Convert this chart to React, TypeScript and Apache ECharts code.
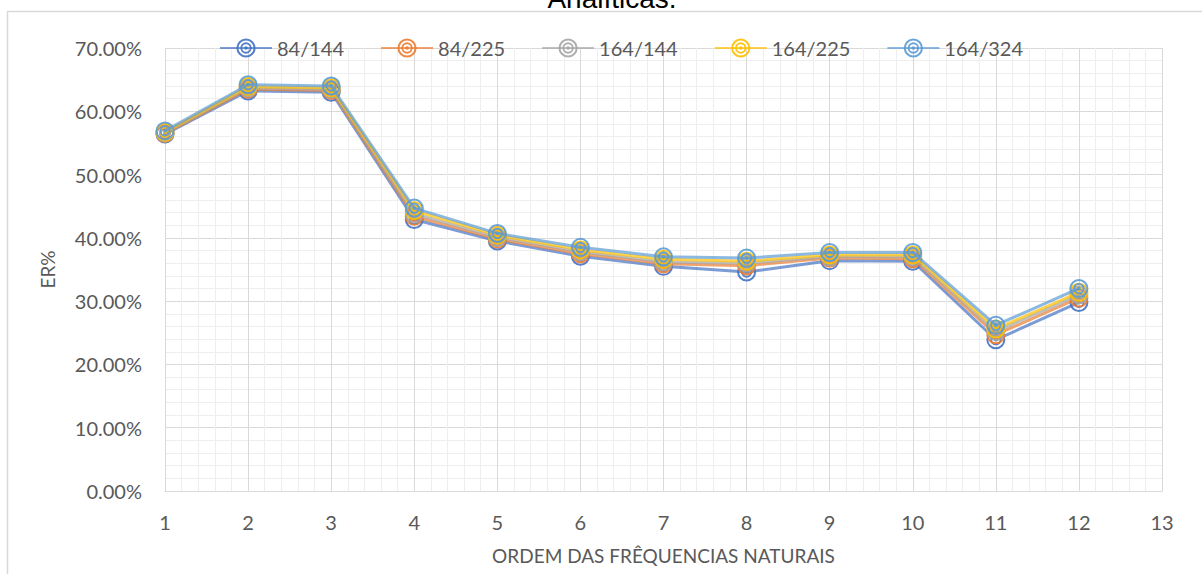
import { useEffect, useRef } from "react";
import * as echarts from "echarts";

const xValues = [1, 2, 3, 4, 5, 6, 7, 8, 9, 10, 11, 12];
const seriesNames = ["84/144", "84/225", "164/144", "164/225", "164/324"];
const s84_144 = [56.4, 63.2, 63.0, 42.9, 39.5, 37.1, 35.5, 34.6, 36.4, 36.3, 23.9, 29.8];
const s84_225 = [56.5, 63.5, 63.3, 43.4, 39.8, 37.5, 35.9, 35.6, 36.8, 36.7, 24.7, 30.5];
const s164_144 = [56.6, 63.7, 63.5, 43.8, 40.1, 37.8, 36.2, 36.0, 37.0, 37.0, 25.2, 31.0];
const s164_225 = [56.7, 63.9, 63.7, 44.3, 40.4, 38.1, 36.6, 36.3, 37.3, 37.3, 25.6, 31.4];
const s164_324 = [56.9, 64.2, 64.0, 44.7, 40.7, 38.5, 37.0, 36.8, 37.7, 37.7, 26.2, 32.0];
const seriesValues = [s84_144, s84_225, s164_144, s164_225, s164_324];
const colors = ["#4472C4", "#ED7D31", "#A5A5A5", "#FFC000", "#5B9BD5"];
const titleText = "Analíticas.";
const xTitle = "ORDEM DAS FRÊQUENCIAS NATURAIS";
const yTitle = "ER%";

const ring = (r1: number, r2: number) =>
  `M0 ${-r1}A${r1} ${r1} 0 1 1 0 ${r1}A${r1} ${r1} 0 1 1 0 ${-r1}Z` +
  `M0 ${-r2}A${r2} ${r2} 0 1 0 0 ${r2}A${r2} ${r2} 0 1 0 0 ${-r2}Z`;
const dot = (r: number) => `M0 ${-r}A${r} ${r} 0 1 1 0 ${r}A${r} ${r} 0 1 1 0 ${-r}Z`;
const bullseye = "path://" + ring(10, 7.9) + ring(5.9, 3.9) + dot(1.9);

const FONT = "Lato";
const TXT = "#595959";

export default function App() {
  const ref = useRef<HTMLDivElement>(null);
  useEffect(() => {
    if (!ref.current) return;
    const chart = echarts.init(ref.current, undefined, { renderer: "svg" });
    chart.setOption({
      animation: false,
      backgroundColor: "#ffffff",
      textStyle: { fontFamily: FONT },
      graphic: [
        {
          type: "rect",
          shape: { x: 7.5, y: 11.5, width: 1400, height: 800 },
          style: { fill: "none", stroke: "#d9d9d9", lineWidth: 1.5 },
          silent: true,
          z: 0,
        },
        {
          type: "text",
          x: 612,
          y: 12,
          z: 10,
          style: {
            text: titleText,
            fontFamily: "Liberation Sans",
            fontSize: 28,
            fill: "#000000",
            textAlign: "center",
            textVerticalAlign: "bottom",
          },
        },
      ],
      legend: {
        left: 214,
        top: 33,
        itemWidth: 52,
        itemHeight: 24,
        itemGap: 36,
        textStyle: { color: TXT, fontSize: 20, fontFamily: FONT },
        data: seriesNames,
      },
      grid: { left: 165, right: 40, top: 48, bottom: 83, containLabel: false },
      xAxis: {
        type: "value",
        min: 1,
        max: 13,
        interval: 1,
        name: xTitle,
        nameLocation: "middle",
        nameGap: 55,
        nameTextStyle: { color: TXT, fontSize: 19, fontFamily: FONT },
        axisLine: { show: true, lineStyle: { color: "#d9d9d9" } },
        axisTick: { show: false },
        axisLabel: { color: TXT, fontSize: 20, fontFamily: FONT, margin: 21 },
        splitLine: { show: true, lineStyle: { color: "#d9d9d9", width: 1 } },
        minorTick: { show: false, splitNumber: 5 },
        minorSplitLine: { show: true, lineStyle: { color: "#eeeeee", width: 1 } },
      },
      yAxis: {
        type: "value",
        min: 0,
        max: 70,
        interval: 10,
        name: yTitle,
        nameLocation: "middle",
        nameGap: 108,
        nameTextStyle: { color: TXT, fontSize: 19, fontFamily: FONT },
        axisLine: { show: false },
        axisTick: { show: false },
        axisLabel: {
          color: TXT,
          fontSize: 20,
          fontFamily: FONT,
          margin: 23,
          formatter: (v: number) => v.toFixed(2) + "%",
        },
        splitLine: { show: true, lineStyle: { color: "#d9d9d9", width: 1 } },
        minorTick: { show: false, splitNumber: 5 },
        minorSplitLine: { show: true, lineStyle: { color: "#eeeeee", width: 1 } },
      },
      series: seriesNames.map((name, i) => ({
        name,
        type: "line",
        data: xValues.map((x, j) => [x, seriesValues[i][j]]),
        symbol: bullseye,
        symbolSize: 19,
        symbolKeepAspect: true,
        color: colors[i],
        itemStyle: { color: colors[i], opacity: 0.9 },
        lineStyle: { color: colors[i], width: 3, opacity: 0.7 },
        z: 2 + i,
      })),
    });
    return () => chart.dispose();
  }, []);
  return (
    <div
      ref={ref}
      style={{ position: "fixed", left: 0, top: 0, width: 1202, height: 574 }}
    />
  );
}
